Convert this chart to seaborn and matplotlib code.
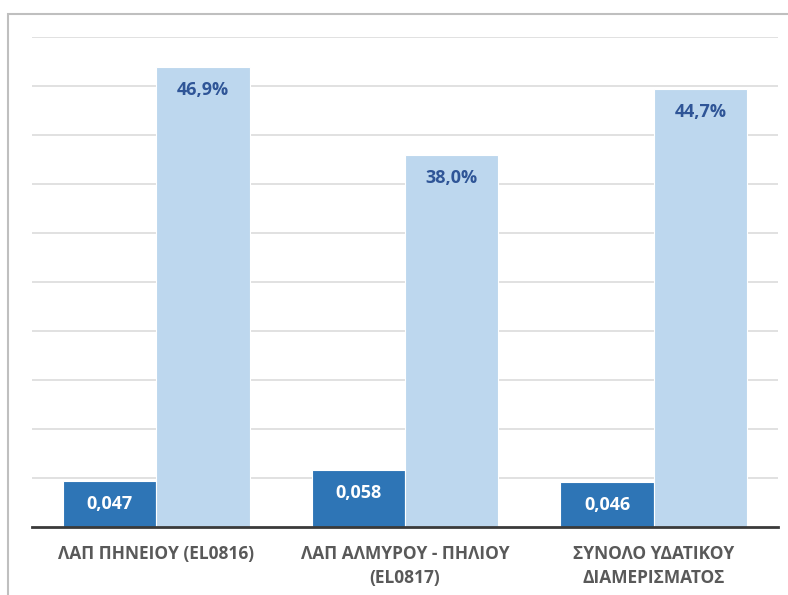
import pandas as pd
import matplotlib.pyplot as plt
import seaborn as sns
from matplotlib.patches import Rectangle

categories = ["ΛΑΠ ΠΗΝΕΙΟΥ (EL0816)", "ΛΑΠ ΑΛΜΥΡΟΥ - ΠΗΛΙΟΥ\n(EL0817)", "ΣΥΝΟΛΟ ΥΔΑΤΙΚΟΥ\nΔΙΑΜΕΡΙΣΜΑΤΟΣ"]
series = ["index", "percent"]
index_values = [0.047, 0.058, 0.046]
percent_values = [0.469, 0.380, 0.447]
index_labels = ["0,047", "0,058", "0,046"]
percent_labels = ["46,9%", "38,0%", "44,7%"]

df = pd.DataFrame({
    "cat": categories * 2,
    "series": [series[0]] * 3 + [series[1]] * 3,
    "value": index_values + percent_values,
})

sns.set_style("white")
plt.rcParams["font.family"] = ["Open Sans", "DejaVu Sans"]

fig = plt.figure(figsize=(7.88, 5.95), dpi=100)
ax = fig.add_axes([32 / 788, 68 / 595, 746 / 788, 490 / 595])

palette = {"index": "#2e75b6", "percent": "#bdd7ee"}
sns.barplot(data=df, x="cat", y="value", hue="series", palette=palette,
            saturation=1, width=0.75, edgecolor="white", linewidth=0.8,
            legend=False, ax=ax, zorder=3)

ax.set_ylim(0, 0.5)
ax.set_yticks([i * 0.05 for i in range(1, 11)])
ax.set_yticklabels([])
ax.tick_params(axis="both", length=0)
ax.yaxis.grid(True, color="#d9d9d9", linewidth=1.1, zorder=0)
ax.set_axisbelow(True)
for s in ["left", "right", "top"]:
    ax.spines[s].set_visible(False)
ax.spines["bottom"].set_color("#3a3a3a")
ax.spines["bottom"].set_linewidth(2)
ax.spines["bottom"].set_zorder(4)
ax.set_xlabel("")
ax.set_ylabel("")
ax.set_xlim(-0.5, 2.5)

for lbl in ax.get_xticklabels():
    lbl.set_fontweight("bold")
    lbl.set_color("#595959")
    lbl.set_fontsize(12.5)
    lbl.set_linespacing(1.4)
ax.tick_params(axis="x", pad=13)

labels = [index_labels, percent_labels]
colors = ["white", "#2f5597"]
for cont, labs, col in zip(ax.containers, labels, colors):
    for p, t in zip(cont.patches, labs):
        ax.annotate(t, (p.get_x() + p.get_width() / 2, p.get_height()),
                    xytext=(0, -16.5), textcoords="offset points",
                    ha="center", va="center", color=col,
                    fontsize=13, fontweight="bold", zorder=5)

fig.patches.append(Rectangle((8 / 788, -0.2), 1.2, 1 - 14 / 595 + 0.2,
                             transform=fig.transFigure, fill=False,
                             edgecolor="#bfbfbf", linewidth=1.5))

fig.savefig("out.png", dpi=100)
